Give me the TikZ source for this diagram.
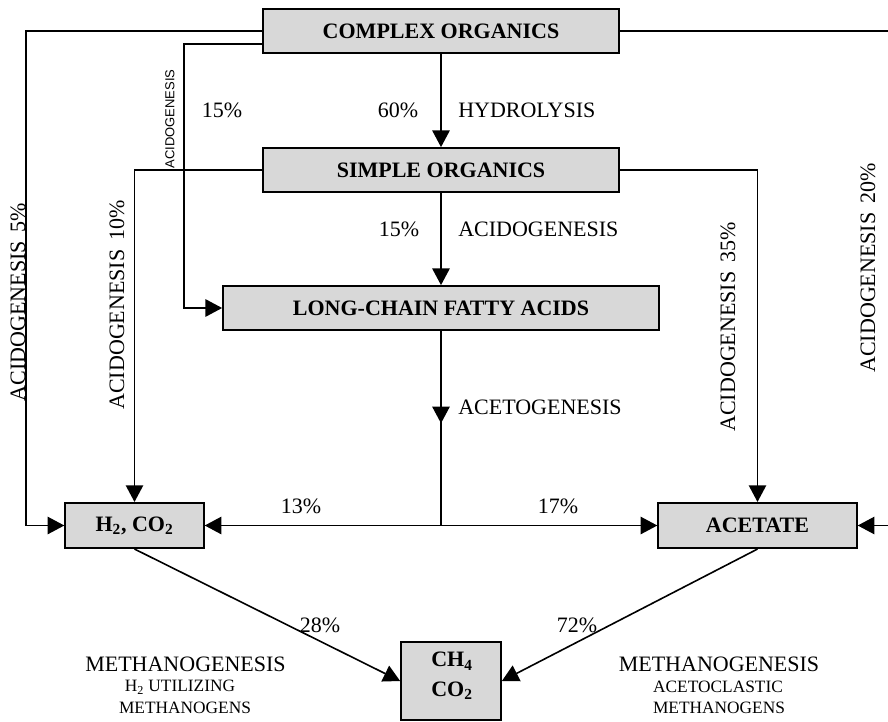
\documentclass[tikz,border=0pt]{standalone}
\usepackage{fontspec}
\setmainfont{Liberation Serif}
\newfontfamily\labelsans{Liberation Sans}
\usetikzlibrary{arrows.meta,calc,decorations.markings}

\definecolor{boxgray}{RGB}{216,216,216}

\begin{document}
\begin{tikzpicture}[x=0.75pt,y=-0.75pt,
  boxtext/.style={font=\fontsize{16.5pt}{22pt}\selectfont\bfseries, inner sep=0pt},
  proc/.style={boxtext, draw, fill=boxgray, line width=1.3pt},
  flow/.style={line width=1.2pt},
  tip/.tip={Triangle[length=12.5pt,width=13pt]},
  arr/.style={flow, -tip},
  lbl/.style={font=\fontsize{16.5pt}{22pt}\selectfont, inner sep=0pt},
  sub/.style={font=\fontsize{13pt}{15pt}\selectfont, inner sep=0pt},
  vlbl/.style={lbl, rotate=90},
  midarrow/.style={postaction={decorate}, decoration={markings,
    mark=at position #1 with {\arrow{tip}}}}
]
\useasboundingbox (0,0) rectangle (888,721);

% process boxes
\node[proc, minimum width=267pt, minimum height=33pt] (co) at (441,31) {COMPLEX ORGANICS};
\node[proc, minimum width=267pt, minimum height=33pt] (so) at (441,170) {SIMPLE ORGANICS};
\node[proc, minimum width=327pt, minimum height=33pt] (lcfa) at (441,308) {LONG-CHAIN FATTY ACIDS};
\node[proc, minimum width=104pt, minimum height=34pt] (h2) at (134.5,525.5) {H\textsubscript{2}, CO\textsubscript{2}};
\node[proc, minimum width=149pt, minimum height=34pt] (ac) at (757.5,525.5) {ACETATE};
\node[proc, minimum width=75pt, minimum height=58.5pt] (ch4) at (451,681) {};
\node[boxtext, align=center] (ch4txt) at (452,676) {CH\textsubscript{4}\\CO\textsubscript{2}};

% turning points of the side branches
\coordinate (xo) at (26,0);
\coordinate (xi) at (184,0);
\coordinate (xr) at (894,0);
\coordinate (jn) at (lcfa.south |- h2.east);

% connectors
\draw[arr] (co.south) -- (so.north);
\draw[arr] (so.south) -- (lcfa.north);
\draw[flow, midarrow=0.475] (lcfa.south) -- (jn);
\draw[arr] (jn) -- (h2.east);
\draw[arr] (jn) -- (ac.west);
\draw[arr] (co.west) -| (xo |- h2.west) -- (h2.west);
\draw[arr] ($(co.west)+(0,13)$) -| (xi |- lcfa.west) -- (lcfa.west);
\draw[arr] (so.west) -| (h2.north);
\draw[arr] (so.east) -| (ac.north);
\draw[arr] (co.east) -| (xr |- ac.east) -- (ac.east);
\draw[arr] (h2.south) -- (ch4.west);
\draw[arr] (ac.south) -- (ch4.east);

% labels
\node[lbl] (p60) at (398,110) {60\%};
\node[lbl, anchor=west] (hyd) at (458,110) {HYDROLYSIS};
\node[lbl] (p15a) at (222,110) {15\%};
\node[font=\labelsans\fontsize{9.75pt}{11pt}\selectfont, rotate=90, inner sep=0pt] (acs) at (170,119) {ACIDOGENESIS};
\node[lbl] (p15b) at (399,229) {15\%};
\node[lbl, anchor=west] (acid) at (458,229) {ACIDOGENESIS};
\node[lbl, anchor=west] (acet) at (458,407) {ACETOGENESIS};

\node[vlbl] (r5) at (18,302) {ACIDOGENESIS\hspace{0.4em}5\%};
\node[vlbl] (r10) at (117,305) {ACIDOGENESIS\hspace{0.4em}10\%};
\node[vlbl] (r35) at (728,327) {ACIDOGENESIS\hspace{0.4em}35\%};
\node[vlbl] (r20) at (868,268) {ACIDOGENESIS\hspace{0.4em}20\%};

\node[lbl] (p13) at (301,506) {13\%};
\node[lbl] (p17) at (558,506) {17\%};
\node[lbl] (p28) at (320,625) {28\%};
\node[lbl] (p72) at (577,625) {72\%};

\node[lbl] (mgl) at (185.5,664) {METHANOGENESIS};
\node[sub] (mgl2) at (180,687) {H\textsubscript{2} UTILIZING};
\node[sub] (mgl3) at (185,708) {METHANOGENS};
\node[lbl] (mgr) at (719,664) {METHANOGENESIS};
\node[sub] (mgr2) at (718,687) {ACETOCLASTIC};
\node[sub] (mgr3) at (719,708) {METHANOGENS};
\end{tikzpicture}
\end{document}
